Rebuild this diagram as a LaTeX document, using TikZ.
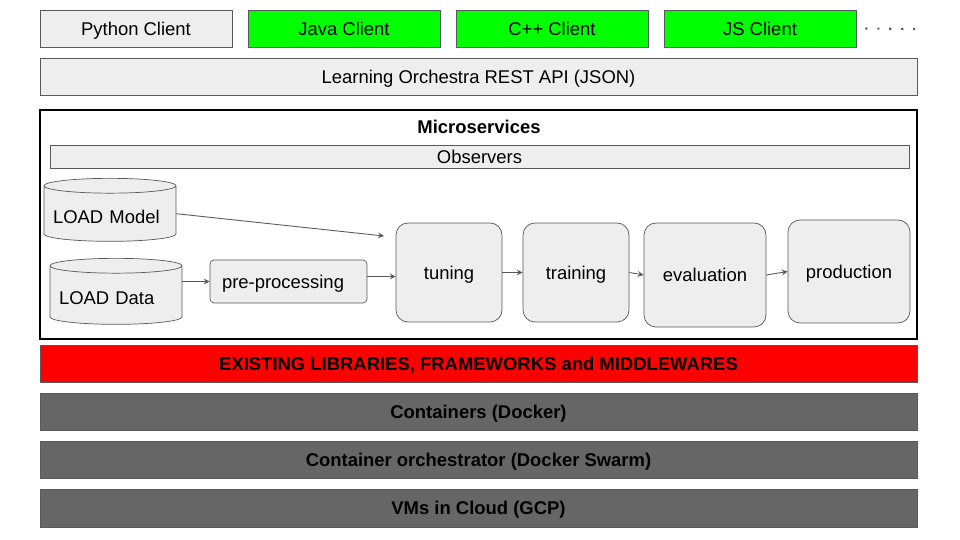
\documentclass[tikz,border=0pt]{standalone}
\usepackage{fontspec}
\setmainfont{Liberation Sans}
\usepackage{xcolor}
\usepackage{tikz}
\usetikzlibrary{shapes,arrows,positioning}

\definecolor{boxgray}{HTML}{EEEEEE}
\definecolor{linegray}{HTML}{595959}
\definecolor{darkbar}{HTML}{666666}
\definecolor{clientgreen}{HTML}{00FF00}
\definecolor{libred}{HTML}{FF0000}

\begin{document}
\begin{tikzpicture}[x=0.02cm, y=-0.02cm,
  font=\fontsize{10.5}{12}\selectfont,
  every node/.style={text height=7.6pt, text depth=0pt},
  client/.style={draw=linegray, fill=boxgray, minimum width=3.84cm, minimum height=0.74cm, inner sep=0pt},
  bar/.style={draw=linegray, fill=boxgray, minimum width=17.54cm, minimum height=0.74cm, inner sep=0pt},
  darkbox/.style={bar, fill=darkbar, font=\fontsize{10.5}{12}\selectfont\bfseries},
  store/.style={cylinder, shape border rotate=90, aspect=0.13, draw=linegray, fill=boxgray, minimum width=2.64cm, text width=2.28cm, text height=11pt, align=left, inner sep=0pt, anchor=north},
  stage/.style={draw=linegray, fill=boxgray, rounded corners=6.8pt, inner sep=0pt},
  flow/.style={->, >=stealth, linegray, line width=0.5pt}]
\useasboundingbox (0,0) rectangle (960,540);
% Clients
\node[client] (python) at (136,28.5) {Python Client};
\node[client, fill=clientgreen] (java) at (344,28.5) {Java Client};
\node[client, fill=clientgreen] (cpp) at (552,28.5) {C++ Client};
\node[client, fill=clientgreen] (js) at (760,28.5) {JS Client};
\coordinate (more) at (918,29);
\draw[linegray, line width=1.2pt, dash pattern=on 1.2pt off 5.6pt] ([xshift=0.18cm]js.east) -- (more);
% REST API
\node[bar] (api) at (478.5,76.5) {Learning Orchestra REST API (JSON)};
% Microservices frame
\node[draw=black, line width=1.2pt, minimum width=17.54cm, minimum height=4.58cm, inner sep=0pt] (micro) at (478.5,224.5) {};
\node[font=\fontsize{10.5}{12}\selectfont\bfseries] (microtitle) at (479,127) {Microservices};
\node[bar, minimum width=17.18cm, minimum height=0.46cm] (observers) at (479.5,156.5) {Observers};
% Loaders
\node[store, minimum height=1.26cm] (model) at (110,178) {LOAD Model};
\node[store, minimum height=1.32cm] (data) at (116,258) {LOAD Data};
% Pipeline
\node[stage, rounded corners=2.3pt, minimum width=3.14cm, minimum height=0.86cm, text width=2.66cm, align=left] (pre) at (288.5,281.5) {pre-processing};
\node[stage, minimum width=2.12cm, minimum height=1.98cm] (tuning) at (449,272.5) {tuning};
\node[stage, minimum width=2.12cm, minimum height=1.98cm] (training) at (576,272.5) {training};
\node[stage, minimum width=2.44cm, minimum height=2.08cm] (evaluation) at (705,275) {evaluation};
\node[stage, minimum width=2.44cm, minimum height=2.06cm] (production) at (849,271.5) {production};
% Arrows
\coordinate (modelend) at (384,236);
\draw[flow] (model.east) -- (modelend);
\draw[flow] (data.east |- pre.west) -- (pre.west);
\draw[flow] ([yshift=0.1cm]pre.east) -- ([yshift=0.1cm]pre.east -| tuning.west);
\draw[flow] (tuning.east) -- (training.west);
\draw[flow] (training.east) -- (evaluation.west);
\draw[flow] (evaluation.east) -- (production.west);
% Lower layers
\node[darkbox, fill=libred] (libs) at (478.5,363.5) {EXISTING LIBRARIES, FRAMEWORKS and MIDDLEWARES};
\node[darkbox] (containers) at (478.5,411.5) {Containers (Docker)};
\node[darkbox] (orchestrator) at (478.5,459.5) {Container orchestrator (Docker Swarm)};
\node[darkbox, minimum height=0.76cm] (vms) at (478.5,508) {VMs in Cloud (GCP)};
\end{tikzpicture}
\end{document}
